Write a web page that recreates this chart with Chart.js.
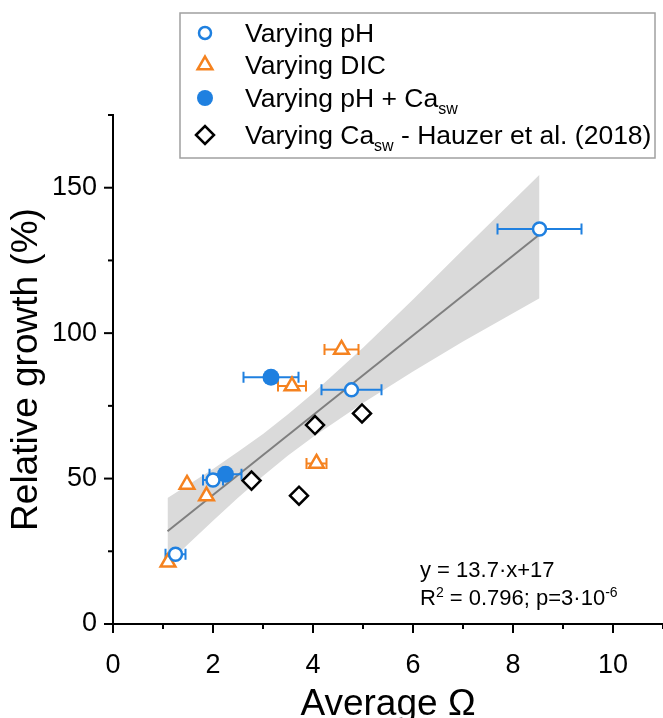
<!DOCTYPE html>
<html><head><meta charset="utf-8">
<script src="https://cdn.jsdelivr.net/npm/chart.js@4.4.1/dist/chart.umd.min.js"></script>
<style>html,body{margin:0;padding:0;background:#fff;}#wrap{position:relative;width:663px;height:718px;}</style>
</head><body><div id="wrap"><canvas id="c" width="663" height="718"></canvas></div>
<script>
// ---- data ----
const phX = [1.25, 2.0, 4.77, 8.53];
const phY = [24.0, 49.5, 80.5, 135.8];
const phErr = [0.2, 0.2, 0.6, 0.84];

const dicX = [1.1, 1.48, 1.87, 3.58, 4.07, 4.57];
const dicY = [21.2, 48.0, 44.0, 81.8, 55.2, 94.4];
const dicErr = [0, 0, 0, 0.28, 0.2, 0.34];

const phCaX = [2.25, 3.16];
const phCaY = [51.5, 84.8];
const phCaErr = [0.32, 0.55];

const hzX = [2.77, 3.72, 4.04, 4.98];
const hzY = [49.3, 44.1, 68.4, 72.4];

const fitX = [1.09, 8.53];
const fitY = [31.9, 133.9];

const bandX = [1.09, 1.5, 2.0, 2.5, 3.0, 3.5, 4.0, 5.0, 6.0, 7.0, 8.53];
const bandUpper = [43.3, 47.8, 53.3, 59.2, 65.3, 72.1, 79.3, 95.0, 111.6, 128.7, 154.5];
const bandLower = [20.5, 27.4, 35.5, 43.4, 50.9, 57.9, 64.3, 76.0, 86.8, 97.1, 112.0];

const xTickStep = 2, xMinorStep = 1;
const yTickStep = 50, yMinorStep = 25;

const legendLabels = [
  [{t: 'Varying pH'}],
  [{t: 'Varying DIC'}],
  [{t: 'Varying pH + Ca'}, {t: 'sw', sub: true}],
  [{t: 'Varying Ca'}, {t: 'sw', sub: true}, {t: ' - Hauzer et al. (2018)'}]
];
const eqLine1 = [{t: 'y = 13.7\u00b7x+17'}];
const eqLine2 = [{t: 'R'}, {t: '2', sup: true}, {t: ' = 0.796; p=3\u00b710'}, {t: '-6', sup: true}];

// ---- styling ----
const FONT = "'Liberation Sans', Arial, sans-serif";
const blue = '#1f80e0', orange = '#f5821f';
const pts = (xs, ys) => xs.map((x, i) => ({x: x, y: ys[i]}));

const errorBars = {
  id: 'errorBars',
  afterDatasetDraw(chart, args) {
    if (args.index !== 2) return;
    const c = chart.ctx, xs = chart.scales.x, ys = chart.scales.y;
    chart.data.datasets.forEach(ds => {
      if (!ds.errX) return;
      c.save();
      c.strokeStyle = ds.errColor; c.lineWidth = 2;
      ds.data.forEach((p, i) => {
        const e = ds.errX[i]; if (!e) return;
        const x1 = xs.getPixelForValue(p.x - e), x2 = xs.getPixelForValue(p.x + e), y = ys.getPixelForValue(p.y);
        c.beginPath();
        c.moveTo(x1, y); c.lineTo(x2, y);
        c.moveTo(x1, y - 5.5); c.lineTo(x1, y + 5.5);
        c.moveTo(x2, y - 5.5); c.lineTo(x2, y + 5.5);
        c.stroke();
      });
      c.restore();
    });
  }
};

function drawRich(c, segs, x, y, size) {
  let cx = x;
  segs.forEach(s => {
    const fs = (s.sub || s.sup) ? Math.round(size * 0.62) : size;
    c.font = fs + 'px ' + FONT;
    const dy = s.sub ? size * 0.28 : (s.sup ? -size * 0.38 : 0);
    c.fillText(s.t, cx, y + dy);
    cx += c.measureText(s.t).width;
  });
}

const extras = {
  id: 'extras',
  afterDraw(chart) {
    const c = chart.ctx, xs = chart.scales.x, ys = chart.scales.y;
    const a = chart.chartArea;
    c.save();
    c.strokeStyle = '#000'; c.lineWidth = 2;
    for (let v = xs.min; v <= xs.max + 1e-9; v += xMinorStep) {
      const px = xs.getPixelForValue(v);
      const len = (Math.abs(v / xTickStep - Math.round(v / xTickStep)) < 1e-9) ? 9 : 5;
      c.beginPath(); c.moveTo(px, a.bottom); c.lineTo(px, a.bottom + len); c.stroke();
    }
    for (let v = ys.min; v <= ys.max + 1e-9; v += yMinorStep) {
      const py = ys.getPixelForValue(v);
      const len = (Math.abs(v / yTickStep - Math.round(v / yTickStep)) < 1e-9) ? 9 : 5;
      c.beginPath(); c.moveTo(a.left, py); c.lineTo(a.left - len, py); c.stroke();
    }
    // legend box
    c.strokeStyle = '#a0a0a0'; c.lineWidth = 1.5;
    c.strokeRect(180, 13, 475, 145);
    const rows = [33, 65, 98, 135];
    const markers = [
      {pointStyle: 'circle', radius: 6, borderWidth: 2.5, fill: '#fff', stroke: blue},
      {pointStyle: 'triangle', radius: 8.5, borderWidth: 2.5, fill: '#fff', stroke: orange},
      {pointStyle: 'circle', radius: 8, borderWidth: 0.01, fill: blue, stroke: blue},
      {pointStyle: 'rectRot', radius: 9, borderWidth: 2.5, fill: '#fff', stroke: '#000'}
    ];
    c.textBaseline = 'alphabetic'; c.textAlign = 'left'; c.fillStyle = '#000';
    markers.forEach((m, i) => {
      c.save();
      c.fillStyle = m.fill; c.strokeStyle = m.stroke; c.lineWidth = m.borderWidth;
      Chart.helpers.drawPoint(c, {pointStyle: m.pointStyle, radius: m.radius, borderWidth: m.borderWidth, rotation: 0}, 205, rows[i]);
      c.restore();
      c.fillStyle = '#000';
      drawRich(c, legendLabels[i], 245, rows[i] + 9, 26.5);
    });
    drawRich(c, eqLine1, 420, 577, 22);
    drawRich(c, eqLine2, 420, 605, 22);
    c.restore();
  }
};

new Chart(document.getElementById('c'), {
  type: 'scatter',
  data: {
    datasets: [
      {label: 'bandUpper', type: 'line', data: pts(bandX, bandUpper), borderColor: 'rgba(0,0,0,0)', borderWidth: 0, pointRadius: 0, fill: '+1', backgroundColor: '#dadada', order: 10},
      {label: 'bandLower', type: 'line', data: pts(bandX, bandLower), borderColor: 'rgba(0,0,0,0)', borderWidth: 0, pointRadius: 0, fill: false, order: 10},
      {label: 'fit', type: 'line', data: pts(fitX, fitY), borderColor: '#7f7f7f', borderWidth: 2, pointRadius: 0, fill: false, order: 9},
      {label: 'Varying Casw - Hauzer et al. (2018)', data: pts(hzX, hzY), pointStyle: 'rectRot', pointRadius: 9, borderColor: '#000', backgroundColor: '#fff', borderWidth: 2.5, order: 3},
      {label: 'Varying DIC', data: pts(dicX, dicY), pointStyle: 'triangle', pointRadius: 8.5, borderColor: orange, backgroundColor: '#fff', borderWidth: 2.5, order: 2, errX: dicErr, errColor: orange},
      {label: 'Varying pH', data: pts(phX, phY), pointStyle: 'circle', pointRadius: 6.5, borderColor: blue, backgroundColor: '#fff', borderWidth: 2.5, order: 1, errX: phErr, errColor: blue},
      {label: 'Varying pH + Casw', data: pts(phCaX, phCaY), pointStyle: 'circle', pointRadius: 8.5, borderColor: blue, backgroundColor: blue, borderWidth: 0, order: 0, errX: phCaErr, errColor: blue}
    ]
  },
  options: {
    responsive: false, animation: false, devicePixelRatio: 1,
    layout: {autoPadding: false, padding: {top: 115, right: 0, left: 0, bottom: 0}},
    plugins: {legend: {display: false}, tooltip: {enabled: false}},
    elements: {line: {tension: 0}},
    scales: {
      x: {
        type: 'linear', min: 0, max: 11,
        ticks: {stepSize: xTickStep, includeBounds: false, color: '#000', padding: 25, font: {family: FONT, size: 27}},
        grid: {display: false, drawTicks: false},
        border: {display: true, color: '#000', width: 2},
        title: {display: true, text: 'Average \u03a9', color: '#000', font: {family: FONT, size: 37}, padding: {top: 0, bottom: -9}},
        afterFit: s => { s.height = 94; s.paddingLeft = 0; s.paddingRight = 0; }
      },
      y: {
        type: 'linear', min: 0, max: 175,
        ticks: {stepSize: yTickStep, includeBounds: false, color: '#000', padding: 16, font: {family: FONT, size: 27}},
        grid: {display: false, drawTicks: false},
        border: {display: true, color: '#000', width: 2},
        title: {display: true, text: 'Relative growth (%)', color: '#000', font: {family: FONT, size: 37}, padding: {top: 5, bottom: 0}},
        afterFit: s => { s.width = 113; s.paddingTop = 0; s.paddingBottom = 0; }
      }
    }
  },
  plugins: [errorBars, extras]
});
</script></body></html>
